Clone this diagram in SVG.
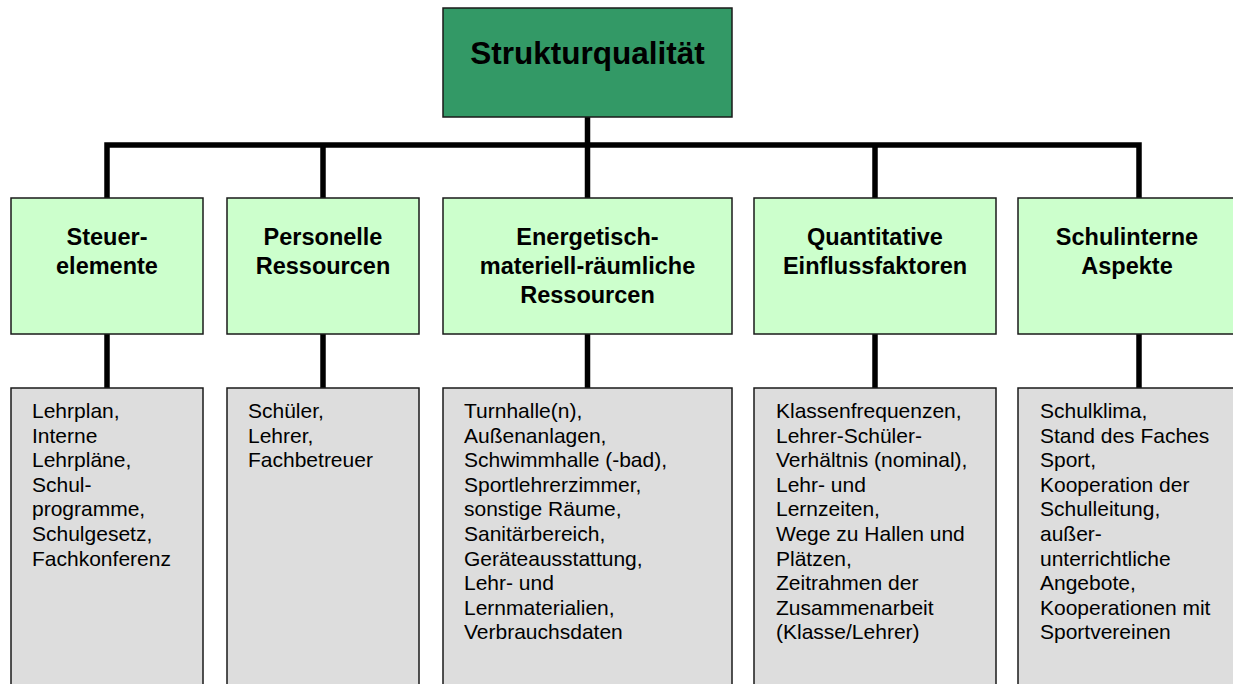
<svg xmlns="http://www.w3.org/2000/svg" width="1233" height="684" viewBox="0 0 1233 684">
<style>
.title{font-family:"Liberation Sans",Arial,sans-serif;font-weight:bold;font-size:31.5px;fill:#000;text-anchor:middle}
.head{font-family:"Liberation Sans",Arial,sans-serif;font-weight:bold;font-size:23.5px;fill:#000;text-anchor:middle}
.item{font-family:"Liberation Sans",Arial,sans-serif;font-size:21px;fill:#000}
.top{fill:#339966;stroke:#1a1a1a;stroke-width:1.5}
.hbox{fill:#ccffcc;stroke:#1a1a1a;stroke-width:1.5}
.lbox{fill:#dddddd;stroke:#1a1a1a;stroke-width:1.5}
.conn{fill:none;stroke:#000;stroke-width:5.5;stroke-linejoin:miter;stroke-linecap:butt}
</style>
<rect width="1233" height="684" fill="#fff"/>
<g id="connectors">
<polyline class="conn" points="107,198 107,145 1139,145 1139,198"/>
<line class="conn" x1="587.5" y1="117" x2="587.5" y2="198"/>
<line class="conn" x1="323" y1="145" x2="323" y2="198"/>
<line class="conn" x1="875" y1="145" x2="875" y2="198"/>
<line class="conn" x1="107" y1="334" x2="107" y2="388"/>
<line class="conn" x1="323" y1="334" x2="323" y2="388"/>
<line class="conn" x1="587.5" y1="334" x2="587.5" y2="388"/>
<line class="conn" x1="875" y1="334" x2="875" y2="388"/>
<line class="conn" x1="1139" y1="334" x2="1139" y2="388"/>
</g>
<g id="root">
<rect class="top" x="443" y="8" width="289" height="109"/>
<text class="title" x="587.5" y="64">Strukturqualität</text>
</g>
<g id="steuerelemente">
<rect class="hbox" x="11" y="198" width="192" height="136"/>
<text class="head" x="107" y="245">Steuer-</text>
<text class="head" x="107" y="274">elemente</text>
</g>
<g id="personelle">
<rect class="hbox" x="227" y="198" width="192" height="136"/>
<text class="head" x="323" y="245">Personelle</text>
<text class="head" x="323" y="274">Ressourcen</text>
</g>
<g id="energetisch">
<rect class="hbox" x="443" y="198" width="289" height="136"/>
<text class="head" x="587.5" y="245">Energetisch-</text>
<text class="head" x="587.5" y="274">materiell-räumliche</text>
<text class="head" x="587.5" y="303">Ressourcen</text>
</g>
<g id="quantitative">
<rect class="hbox" x="754" y="198" width="242" height="136"/>
<text class="head" x="875" y="245">Quantitative</text>
<text class="head" x="875" y="274">Einflussfaktoren</text>
</g>
<g id="schulinterne">
<rect class="hbox" x="1018" y="198" width="218" height="136"/>
<text class="head" x="1127" y="245">Schulinterne</text>
<text class="head" x="1127" y="274">Aspekte</text>
</g>
<g id="list-steuer">
<rect class="lbox" x="11" y="388" width="192" height="310"/>
<text class="item" x="32" y="418">
<tspan x="32" dy="0">Lehrplan,</tspan>
<tspan x="32" dy="24.6">Interne</tspan>
<tspan x="32" dy="24.6">Lehrpläne,</tspan>
<tspan x="32" dy="24.6">Schul-</tspan>
<tspan x="32" dy="24.6">programme,</tspan>
<tspan x="32" dy="24.6">Schulgesetz,</tspan>
<tspan x="32" dy="24.6">Fachkonferenz</tspan>
</text>
</g>
<g id="list-personelle">
<rect class="lbox" x="227" y="388" width="192" height="310"/>
<text class="item" x="248" y="418">
<tspan x="248" dy="0">Schüler,</tspan>
<tspan x="248" dy="24.6">Lehrer,</tspan>
<tspan x="248" dy="24.6">Fachbetreuer</tspan>
</text>
</g>
<g id="list-energetisch">
<rect class="lbox" x="443" y="388" width="289" height="310"/>
<text class="item" x="464" y="418">
<tspan x="464" dy="0">Turnhalle(n),</tspan>
<tspan x="464" dy="24.6">Außenanlagen,</tspan>
<tspan x="464" dy="24.6">Schwimmhalle (-bad),</tspan>
<tspan x="464" dy="24.6">Sportlehrerzimmer,</tspan>
<tspan x="464" dy="24.6">sonstige Räume,</tspan>
<tspan x="464" dy="24.6">Sanitärbereich,</tspan>
<tspan x="464" dy="24.6">Geräteausstattung,</tspan>
<tspan x="464" dy="24.6">Lehr- und</tspan>
<tspan x="464" dy="24.6">Lernmaterialien,</tspan>
<tspan x="464" dy="24.6">Verbrauchsdaten</tspan>
</text>
</g>
<g id="list-quantitative">
<rect class="lbox" x="754" y="388" width="242" height="310"/>
<text class="item" x="776" y="418">
<tspan x="776" dy="0">Klassenfrequenzen,</tspan>
<tspan x="776" dy="24.6">Lehrer-Schüler-</tspan>
<tspan x="776" dy="24.6">Verhältnis (nominal),</tspan>
<tspan x="776" dy="24.6">Lehr- und</tspan>
<tspan x="776" dy="24.6">Lernzeiten,</tspan>
<tspan x="776" dy="24.6">Wege zu Hallen und</tspan>
<tspan x="776" dy="24.6">Plätzen,</tspan>
<tspan x="776" dy="24.6">Zeitrahmen der</tspan>
<tspan x="776" dy="24.6">Zusammenarbeit</tspan>
<tspan x="776" dy="24.6">(Klasse/Lehrer)</tspan>
</text>
</g>
<g id="list-schulinterne">
<rect class="lbox" x="1018" y="388" width="218" height="310"/>
<text class="item" x="1040" y="418">
<tspan x="1040" dy="0">Schulklima,</tspan>
<tspan x="1040" dy="24.6">Stand des Faches</tspan>
<tspan x="1040" dy="24.6">Sport,</tspan>
<tspan x="1040" dy="24.6">Kooperation der</tspan>
<tspan x="1040" dy="24.6">Schulleitung,</tspan>
<tspan x="1040" dy="24.6">außer-</tspan>
<tspan x="1040" dy="24.6">unterrichtliche</tspan>
<tspan x="1040" dy="24.6">Angebote,</tspan>
<tspan x="1040" dy="24.6">Kooperationen mit</tspan>
<tspan x="1040" dy="24.6">Sportvereinen</tspan>
</text>
</g>
</svg>
